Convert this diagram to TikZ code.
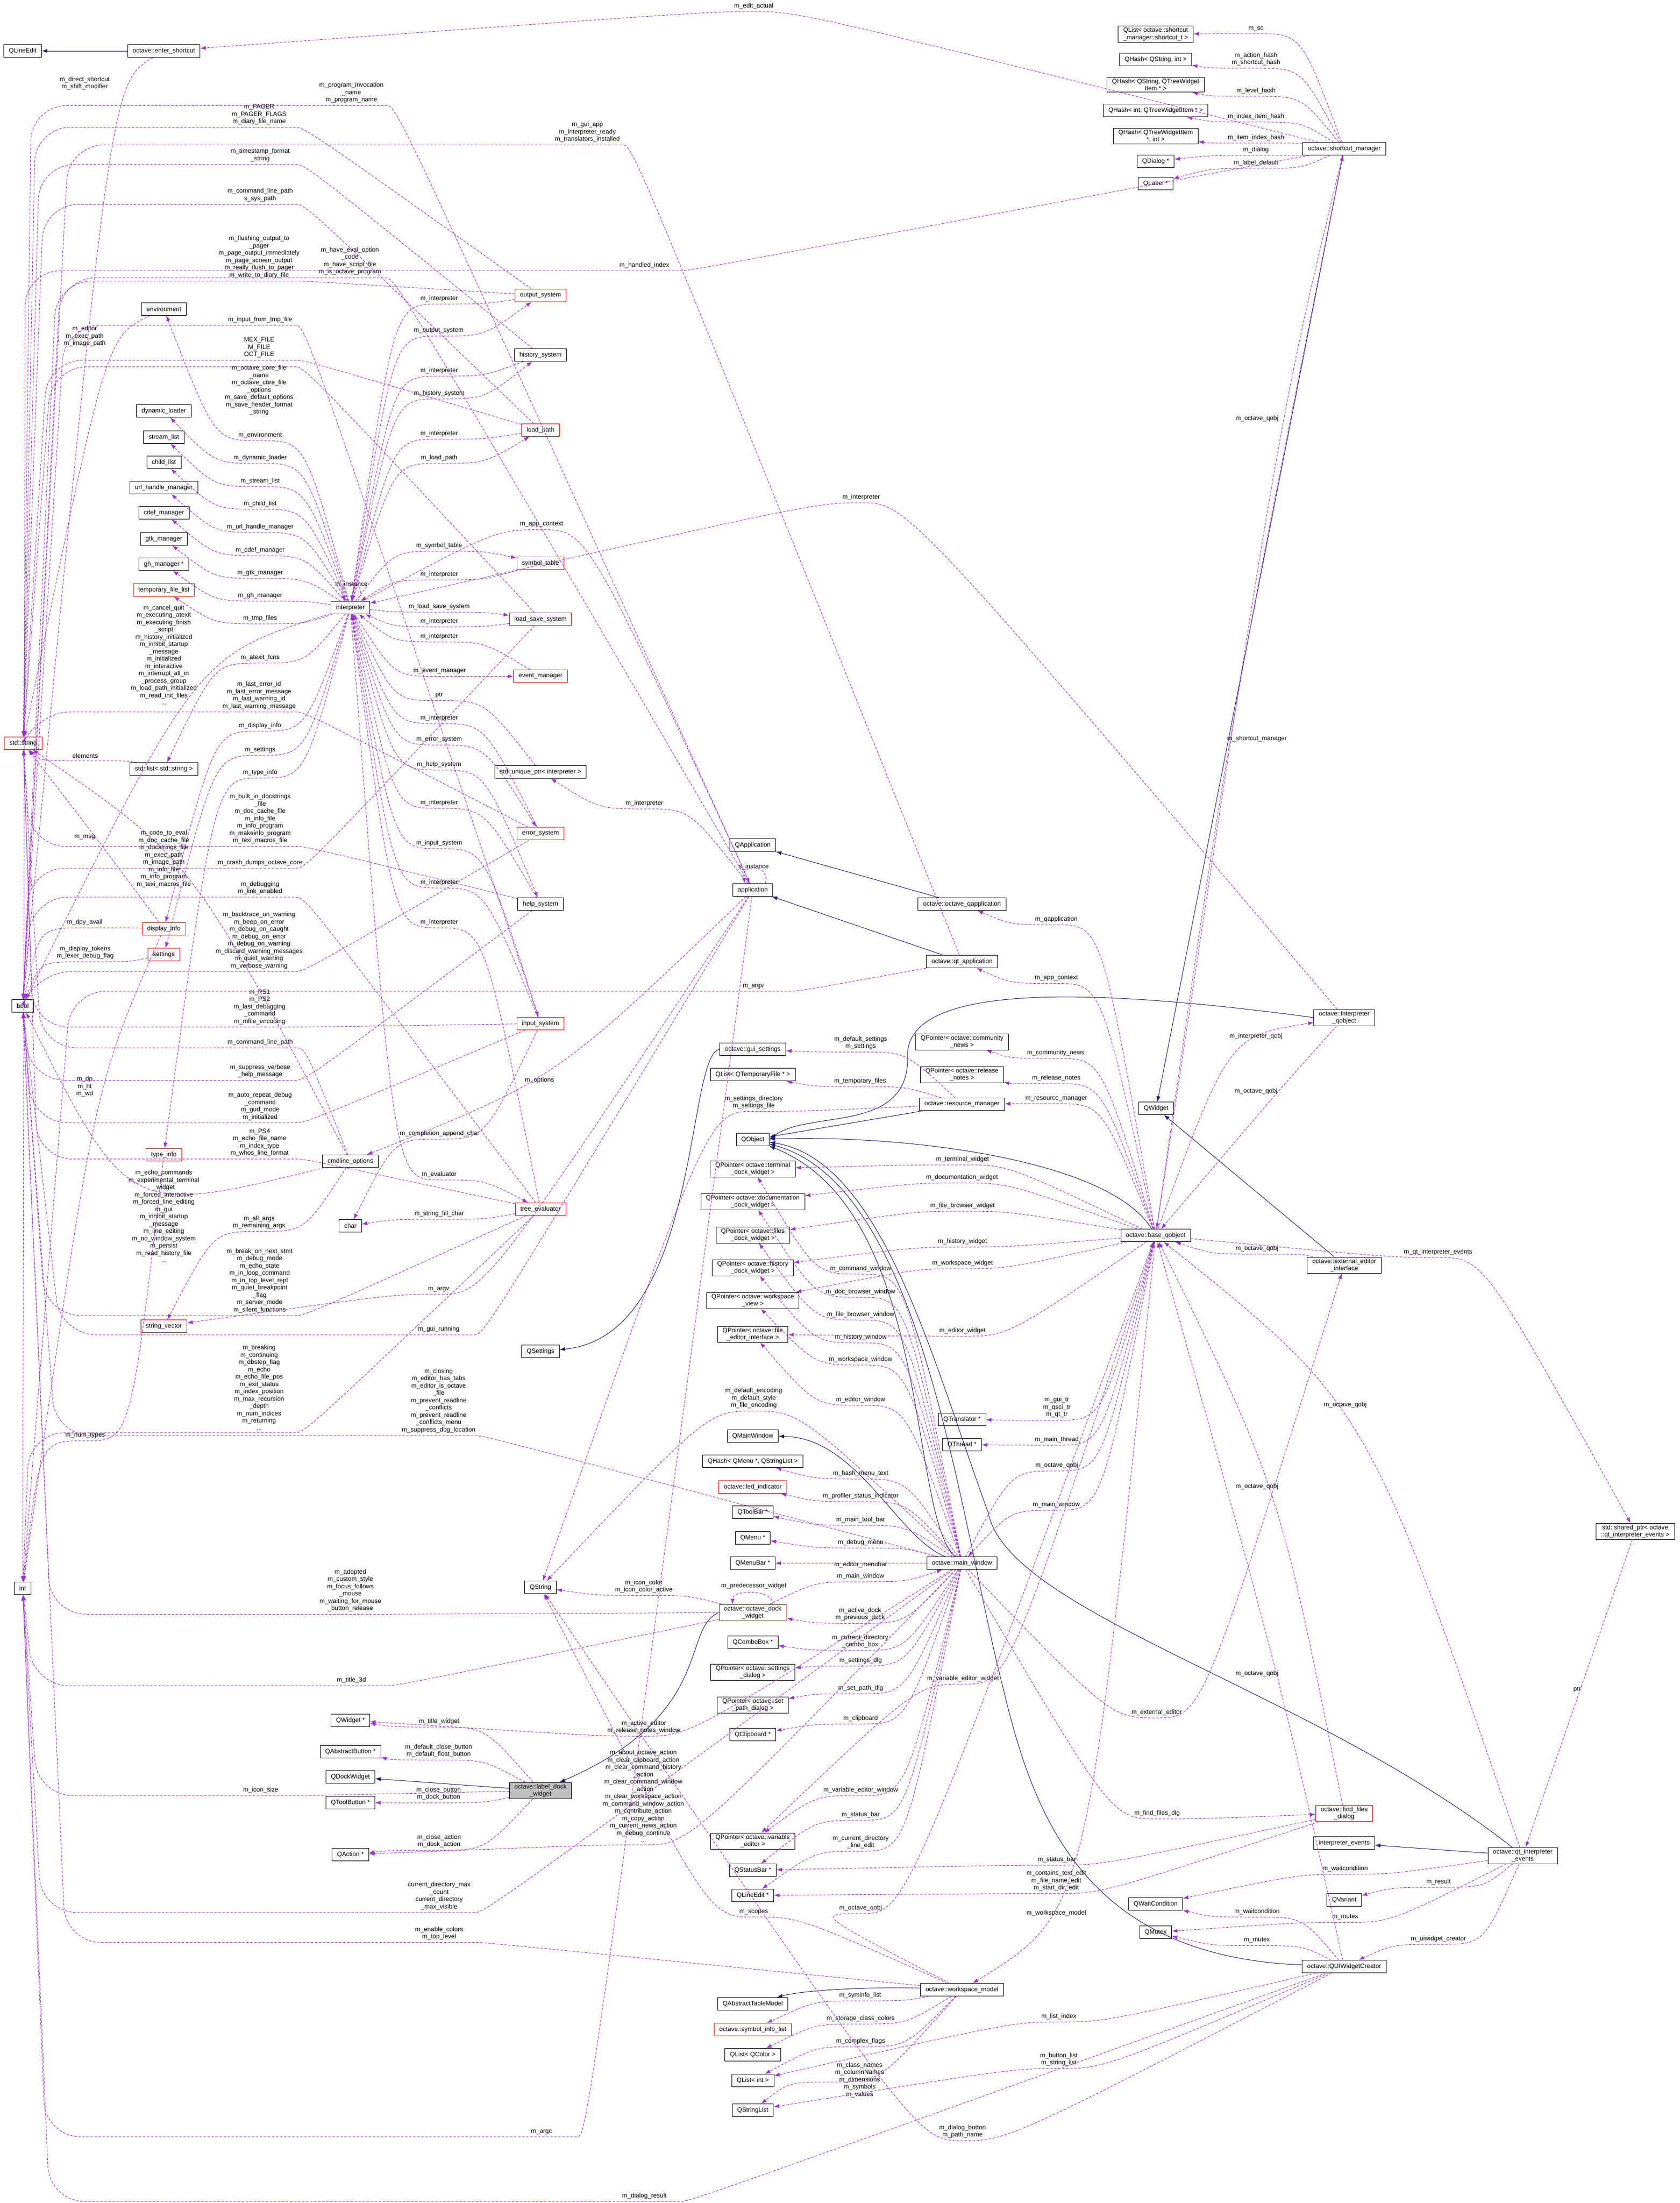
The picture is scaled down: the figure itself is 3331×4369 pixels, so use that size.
\documentclass[tikz,border=0pt]{standalone}
\usepackage{fontspec}
\setmainfont{Liberation Sans}
\usetikzlibrary{calc,arrows.meta}
\definecolor{dp}{HTML}{9A32CD}
\definecolor{nv}{HTML}{191970}
\newcommand\fnt{\fontsize{12.5}{14.5}\selectfont}
\tikzset{
 cls/.style={draw=black,line width=0.9pt,fill=white,font=\fnt,inner xsep=10pt,inner ysep=3pt,minimum height=25pt,align=center},
 redc/.style={cls,draw=red},
 rootc/.style={cls,fill=black!25},
 lab/.style={font=\fnt,align=center,inner sep=1pt},
 dep/.style={draw=dp,line width=1pt,dash pattern=on 5pt off 3pt,-{Latex[length=11pt,width=8pt]}},
 inh/.style={draw=nv,line width=1pt,-{Latex[length=11pt,width=8pt]}}
}
% horizontal pass through label point
\newcommand\pe[4][]{\draw[dep,#1] let \p1=(#2),\p2=(#4),\n1={sign(\x1-\x2)*90} in
  (#2) .. controls ($(#3)+(\n1,4)$) .. ($(#3)+(0,4)$) .. controls ($(#3)+(-\n1,4)$) .. (#4);}
% pass close to label point (single control)
\newcommand\pv[4][]{\draw[dep,#1] (#2) .. controls (#3) .. (#4);}
% pass label, then run along a vertical lane at x=#4 into the target
\newcommand\pl[5][]{\draw[dep,rounded corners=70pt,#1] let \p1=(#2),\p3=(#3),\n1={sign(\x1-\x3)*90} in
  (#2) .. controls ($(#3)+(\n1,4)$) .. ($(#3)+(0,4)$) -- (#4pt,\y3-4pt) -- (#5);}
\begin{document}
\catcode`\_=12
\begin{tikzpicture}[x=1pt,y=-1pt]
\useasboundingbox (0,0) rectangle (3331,4369);
% ---------- nodes ----------
\node[cls] (qle) at (45,101) {QLineEdit};
\node[cls] (esc) at (325,101) {octave::enter_shortcut};
\node[cls] (env) at (325,613) {environment};
\node[cls] (dyl) at (325,815) {dynamic_loader};
\node[cls] (stl) at (325,867) {stream_list};
\node[cls] (chl) at (325,917) {child_list};
\node[cls] (uhm) at (325,967) {url_handle_manager};
\node[cls] (cdm) at (325,1017) {cdef_manager};
\node[cls] (gtk) at (325,1069) {gtk_manager};
\node[cls] (ghm) at (325,1119) {gh_manager *};
\node[redc] (tfl) at (325,1170) {temporary_file_list};
\node[cls] (itp) at (695,1205) {interpreter};
\node[redc] (outs) at (1072,586) {output_system};
\node[cls] (hist) at (1072,704) {history_system};
\node[redc] (lp) at (1072,853) {load_path};
\node[redc] (symt) at (1072,1117) {symbol_table};
\node[redc] (lss) at (1072,1228) {load_save_system};
\node[redc] (evm) at (1072,1341) {event_manager};
\node[cls] (uptr) at (1072,1531) {std::unique_ptr< interpreter >};
\node[redc] (errs) at (1072,1653) {error_system};
\node[cls] (helps) at (1072,1793) {help_system};
\node[redc] (inps) at (1072,2030) {input_system};
\node[redc] (sstr) at (46,1474) {std::string};
\node[cls] (slist) at (325,1525) {std::list< std::string >};
\node[redc] (dinfo) at (325,1842) {display_info};
\node[redc] (sett) at (325,1893) {settings};
\node[cls] (boo) at (45,1995) {bool};
\node[redc] (tinfo) at (325,2290) {type_info};
\node[cls] (cmdo) at (695,2303) {cmdline_options};
\node[redc] (tev) at (1072,2398) {tree_evaluator};
\node[cls] (chr) at (695,2431) {char};
\node[redc] (svec) at (325,2630) {string_vector};
\node[cls] (qset) at (1072,2680) {QSettings};
\node[cls] (nint) at (45,3150) {int};
\node[cls] (qstr) at (1072,3148) {QString};
\node[cls] (qwp) at (695,3412) {QWidget *};
\node[cls] (qab) at (695,3474) {QAbstractButton *};
\node[cls] (qdw) at (695,3524) {QDockWidget};
\node[cls] (qtb) at (695,3575) {QToolButton *};
\node[cls] (qact) at (695,3678) {QAction *};
\node[rootc] (ldw) at (1072,3551) {octave::label_dock\\_widget};
\node[cls] (qapp) at (1493,1676) {QApplication};
\node[cls] (app) at (1493,1765) {application};
\node[cls] (oqa) at (1908,1793) {octave::octave_qapplication};
\node[cls] (qta) at (1908,1907) {octave::qt_application};
\node[cls] (pcn) at (1908,2066) {QPointer< octave::community\\_news >};
\node[cls] (prn) at (1908,2131) {QPointer< octave::release\\_notes >};
\node[cls] (rsm) at (1908,2190) {octave::resource_manager};
\node[cls] (qwid) at (2293,2198) {QWidget};
\node[cls] (gus) at (1493,2081) {octave::gui_settings};
\node[cls] (qltf) at (1493,2131) {QList< QTemporaryFile * >};
\node[cls] (qobj) at (1493,2260) {QObject};
\node[cls] (pterm) at (1493,2318) {QPointer< octave::terminal\\_dock_widget >};
\node[cls] (pdoc) at (1493,2383) {QPointer< octave::documentation\\_dock_widget >};
\node[cls] (pfile) at (1493,2449) {QPointer< octave::files\\_dock_widget >};
\node[cls] (phist) at (1493,2514) {QPointer< octave::history\\_dock_widget >};
\node[cls] (pws) at (1493,2579) {QPointer< octave::workspace\\_view >};
\node[cls] (pfe) at (1493,2646) {QPointer< octave::file\\_editor_interface >};
\node[cls] (bqo) at (2292,2450) {octave::base_qobject};
\node[cls] (qtr) at (1908,2815) {QTranslator *};
\node[cls] (qth) at (1908,2865) {QThread *};
\node[cls] (qmw) at (1493,2848) {QMainWindow};
\node[cls] (qhm) at (1493,2898) {QHash< QMenu *, QStringList >};
\node[redc] (led) at (1493,2949) {octave::led_indicator};
\node[cls] (qtbar) at (1493,2999) {QToolBar *};
\node[cls] (qmenu) at (1493,3050) {QMenu *};
\node[cls] (qmb) at (1493,3100) {QMenuBar *};
\node[cls] (mw) at (1908,3100) {octave::main_window};
\node[redc] (odw) at (1493,3198) {octave::octave_dock\\_widget};
\node[cls] (qcb) at (1493,3257) {QComboBox *};
\node[cls] (psd) at (1493,3316) {QPointer< octave::settings\\_dialog >};
\node[cls] (pspd) at (1493,3381) {QPointer< octave::set\\_path_dialog >};
\node[cls] (qcl) at (1493,3440) {QClipboard *};
\node[cls] (pve) at (1493,3651) {QPointer< octave::variable\\_editor >};
\node[cls] (qsb) at (1493,3709) {QStatusBar *};
\node[cls] (qlep) at (1493,3759) {QLineEdit *};
\node[cls] (qwc) at (2292,3776) {QWaitCondition};
\node[cls] (qvar) at (2666,3768) {QVariant};
\node[cls] (qmx) at (2292,3832) {QMutex};
\node[cls] (uic) at (2666,3900) {octave::QUIWidgetCreator};
\node[cls] (wsm) at (1908,3946) {octave::workspace_model};
\node[cls] (qatm) at (1493,3974) {QAbstractTableModel};
\node[redc] (sil) at (1493,4025) {octave::symbol_info_list};
\node[cls] (qlc) at (1493,4075) {QList< QColor >};
\node[cls] (qli) at (1493,4126) {QList< int >};
\node[cls] (qsl) at (1493,4185) {QStringList};
\node[cls] (eei) at (2666,2509) {octave::external_editor\\_interface};
\node[cls] (sptr) at (3243,3037) {std::shared_ptr< octave\\::qt_interpreter_events >};
\node[redc] (ffd) at (2666,3596) {octave::find_files\\_dialog};
\node[cls] (iev) at (2666,3655) {interpreter_events};
\node[cls] (qie) at (3020,3680) {octave::qt_interpreter\\_events};
\node[cls] (iqo) at (2666,2018) {octave::interpreter\\_qobject};
\node[cls] (qls) at (2292,68) {QList< octave::shortcut\\_manager::shortcut_t >};
\node[cls] (qhsi) at (2292,118) {QHash< QString, int >};
\node[cls] (qhst) at (2292,168) {QHash< QString, QTreeWidget\\Item * >};
\node[cls] (qhit) at (2292,219) {QHash< int, QTreeWidgetItem * >};
\node[cls] (qhti) at (2292,270) {QHash< QTreeWidgetItem\\*, int >};
\node[cls] (sm) at (2666,295) {octave::shortcut_manager};
\node[cls] (qdlg) at (2292,320) {QDialog *};
\node[cls] (qlab) at (2292,364) {QLabel *};
% ---------- labels ----------
\node[lab] (a1) at (516,863) {m_environment};
\node[lab] (a2) at (516,908) {m_dynamic_loader};
\node[lab] (a3) at (516,954) {m_stream_list};
\node[lab] (a4) at (516,999) {m_child_list};
\node[lab] (a5) at (516,1045) {m_url_handle_manager};
\node[lab] (a6) at (516,1091) {m_cdef_manager};
\node[lab] (a7) at (516,1136) {m_gtk_manager};
\node[lab] (a8) at (516,1181) {m_gh_manager};
\node[lab] (a9) at (516,1226) {m_tmp_files};
\node[lab] (a10) at (516,1304) {m_atexit_fcns};
\node[lab] (a11) at (516,1439) {m_display_info};
\node[lab] (a12) at (516,1487) {m_settings};
\node[lab] (a13) at (516,1532) {m_type_info};
\node[lab] (b1) at (870,656) {m_output_system};
\node[lab] (b2) at (871,780) {m_history_system};
\node[lab] (b3) at (871,908) {m_load_path};
\node[lab] (b4) at (871,1082) {m_symbol_table};
\node[lab] (b5) at (871,1203) {m_load_save_system};
\node[lab] (b6) at (872,1331) {m_event_manager};
\node[lab] (b7) at (871,1467) {m_error_system};
\node[lab] (b8) at (871,1516) {m_help_system};
\node[lab] (b9) at (871,1672) {m_input_system};
\node[lab] (b10) at (871,2329) {m_evaluator};
\node[lab] (b11) at (697,1159) {m_instance};
\node[lab] (b12) at (1074,1040) {m_app_context};
\node[lab] (c1) at (871,592) {m_interpreter};
\node[lab] (c2) at (871,735) {m_interpreter};
\node[lab] (c3) at (871,860) {m_interpreter};
\node[lab] (c4) at (871,1139) {m_interpreter};
\node[lab] (c5) at (871,1232) {m_interpreter};
\node[lab] (c6) at (871,1262) {m_interpreter};
\node[lab] (c7) at (871,1379) {ptr};
\node[lab] (c8) at (871,1424) {m_interpreter};
\node[lab] (c9) at (871,1592) {m_interpreter};
\node[lab] (c10) at (871,1750) {m_interpreter};
\node[lab] (c11) at (871,1829) {m_interpreter};
\node[lab] (c12) at (1278,1593) {m_interpreter};
\node[lab] (c13) at (1070,2142) {m_options};
\node[lab] (c14) at (871,2407) {m_string_fill_char};
\node[lab] (c15) at (872,2248) {m_completion_append_char};
\node[lab] (c16) at (1708,986) {m_interpreter};
\node[lab] (s1) at (169,1499) {elements};
\node[lab] (s2) at (697,184) {m_program_invocation\\_name\\m_program_name};
\node[lab] (s3) at (514,227) {m_PAGER\\m_PAGER_FLAGS\\m_diary_file_name};
\node[lab] (s4) at (516,308) {m_timestamp_format\\_string};
\node[lab] (s5) at (516,387) {m_command_line_path\\s_sys_path};
\node[lab] (s6) at (514,689) {MEX_FILE\\M_FILE\\OCT_FILE};
\node[lab] (s7) at (514,774) {m_octave_core_file\\_name\\m_octave_core_file\\_options\\m_save_default_options\\m_save_header_format\\_string};
\node[lab] (s8) at (514,1379) {m_last_error_id\\m_last_error_message\\m_last_warning_id\\m_last_warning_message};
\node[lab] (s9) at (516,1624) {m_built_in_docstrings\\_file\\m_doc_cache_file\\m_info_file\\m_info_program\\m_makeinfo_program\\m_texi_macros_file};
\node[lab] (s10) at (325,1703) {m_code_to_eval\\m_doc_cache_file\\m_docstrings_file\\m_exec_path\\m_image_path\\m_info_file\\m_info_program\\m_texi_macros_file};
\node[lab] (s11) at (515,1997) {m_PS1\\m_PS2\\m_last_debugging\\_command\\m_mfile_encoding};
\node[lab] (s12) at (515,2266) {m_PS4\\m_echo_file_name\\m_index_type\\m_whos_line_format};
\node[lab] (s13) at (168,667) {m_editor\\m_exec_path\\m_image_path};
\node[lab] (s14) at (168,1660) {m_msg};
\node[lab] (s15) at (516,2067) {m_command_line_path};
\node[lab] (t1) at (168,165) {m_direct_shortcut\\m_shift_modifier};
\node[lab] (t2) at (514,510) {m_flushing_output_to\\_pager\\m_page_output_immediately\\m_page_screen_output\\m_really_flush_to_pager\\m_write_to_diary_file};
\node[lab] (t3) at (694,518) {m_have_eval_option\\_code\\m_have_script_file\\m_is_octave_program};
\node[lab] (t4) at (516,634) {m_input_from_tmp_file};
\node[lab] (t5) at (1165,262) {m_gui_app\\m_interpreter_ready\\m_translators_installed};
\node[lab] (t6) at (516,1711) {m_crash_dumps_octave_core};
\node[lab] (t7) at (516,1761) {m_debugging\\m_link_enabled};
\node[lab] (t8) at (514,1865) {m_backtrace_on_warning\\m_beep_on_error\\m_debug_on_caught\\m_debug_on_error\\m_debug_on_warning\\m_discard_warning_messages\\m_quiet_warning\\m_verbose_warning};
\node[lab] (t9) at (168,1829) {m_dpy_avail};
\node[lab] (t10) at (169,1889) {m_display_tokens\\m_lexer_debug_flag};
\node[lab] (t11) at (516,2124) {m_suppress_verbose\\_help_message};
\node[lab] (t12) at (516,2194) {m_auto_repeat_debug\\_command\\m_gud_mode\\m_initialized};
\node[lab] (t13) at (325,2412) {m_echo_commands\\m_experimental_terminal\\_widget\\m_forced_interactive\\m_forced_line_editing\\m_gui\\m_inhibit_startup\\_message\\m_line_editing\\m_no_window_system\\m_persist\\m_read_history_file\\...};
\node[lab] (t14) at (515,2540) {m_break_on_next_stmt\\m_debug_mode\\m_echo_state\\m_in_loop_command\\m_in_top_level_repl\\m_quiet_breakpoint\\_flag\\m_server_mode\\m_silent_functions};
\node[lab] (t15) at (695,3154) {m_adopted\\m_custom_style\\m_focus_follows\\_mouse\\m_waiting_for_mouse\\_button_release};
\node[lab] (t16) at (870,2778) {m_closing\\m_editor_has_tabs\\m_editor_is_octave\\_file\\m_prevent_readline\\_conflicts\\m_prevent_readline\\_conflicts_menu\\m_suppress_dbg_location};
\node[lab] (t17) at (870,2636) {m_gui_running};
\node[lab] (t18) at (871,3834) {m_enable_colors\\m_top_level};
\node[lab] (t19) at (325,1299) {m_cancel_quit\\m_executing_atexit\\m_executing_finish\\_script\\m_history_initialized\\m_inhibit_startup\\_message\\m_initialized\\m_interactive\\m_interrupt_all_in\\_process_group\\m_load_path_initialized\\m_read_init_files\\...};
\node[lab] (i1) at (168,2155) {m_dp\\m_ht\\m_wd};
\node[lab] (i2) at (169,2847) {m_num_types};
\node[lab] (i3) at (514,2752) {m_breaking\\m_continuing\\m_dbstep_flag\\m_echo\\m_echo_file_pos\\m_exit_status\\m_index_position\\m_max_recursion\\_depth\\m_num_indices\\m_returning\\...};
\node[lab] (i4) at (697,3332) {m_title_3d};
\node[lab] (i5) at (517,3550) {m_icon_size};
\node[lab] (i6) at (871,3760) {current_directory_max\\_count\\current_directory\\_max_visible};
\node[lab] (i7) at (1074,4228) {m_argc};
\node[lab] (i8) at (1278,4355) {m_dialog_result};
\node[lab] (i9) at (1278,526) {m_handled_index};
\node[lab] (v1) at (514,2424) {m_all_args\\m_remaining_args};
\node[lab] (v2) at (870,2557) {m_argv};
\node[lab] (q1) at (1495,2773) {m_default_encoding\\m_default_style\\m_file_encoding};
\node[lab] (q2) at (1277,3146) {m_icon_color\\m_icon_color_active};
\node[lab] (q3) at (1495,3792) {m_scopes};
\node[lab] (q4) at (1909,4227) {m_dialog_button\\m_path_name};
\node[lab] (q5) at (1495,2186) {m_settings_directory\\m_settings_file};
\node[lab] (d1) at (871,3414) {m_title_widget};
\node[lab] (d2) at (870,3472) {m_default_close_button\\m_default_float_button};
\node[lab] (d3) at (870,3557) {m_close_button\\m_dock_button};
\node[lab] (d4) at (871,3651) {m_close_action\\m_dock_action};
\node[lab] (d5) at (1276,3562) {m_about_octave_action\\m_clear_clipboard_action\\m_clear_command_history\\_action\\m_clear_command_window\\_action\\m_clear_workspace_action\\m_command_window_action\\m_contribute_action\\m_copy_action\\m_current_news_action\\m_debug_continue\\...};
\node[lab] (d6) at (1277,3425) {m_active_editor\\m_release_notes_window};
\node[lab] (e1) at (2095,1823) {m_qapplication};
\node[lab] (e2) at (2095,1940) {m_app_context};
\node[lab] (e3) at (2094,2088) {m_community_news};
\node[lab] (e4) at (2095,2138) {m_release_notes};
\node[lab] (e5) at (2095,2179) {m_resource_manager};
\node[lab] (e6) at (1909,2299) {m_terminal_widget};
\node[lab] (e7) at (1908,2335) {m_documentation_widget};
\node[lab] (e8) at (1909,2391) {m_file_browser_widget};
\node[lab] (e9) at (1909,2462) {m_history_widget};
\node[lab] (e10) at (1909,2505) {m_workspace_widget};
\node[lab] (e11) at (1909,2639) {m_editor_widget};
\node[lab] (e12) at (2096,2791) {m_gui_tr\\m_qsci_tr\\m_qt_tr};
\node[lab] (e13) at (2096,2855) {m_main_thread};
\node[lab] (e14) at (2095,2984) {m_main_window};
\node[lab] (e15) at (2096,2906) {m_octave_qobj};
\node[lab] (e16) at (2493,1465) {m_shortcut_manager};
\node[lab] (e17) at (2493,830) {m_octave_qobj};
\node[lab] (e18) at (2491,2055) {m_interpreter_qobj};
\node[lab] (e19) at (2491,2164) {m_octave_qobj};
\node[lab] (e20) at (2493,2476) {m_octave_qobj};
\node[lab] (e21) at (2852,2483) {m_qt_interpreter_events};
\node[lab] (e22) at (2668,2786) {m_octave_qobj};
\node[lab] (e23) at (2493,2948) {m_octave_qobj};
\node[lab] (e24) at (2493,3319) {m_octave_qobj};
\node[lab] (e25) at (2095,3794) {m_workspace_model};
\node[lab] (e26) at (1707,3784) {m_octave_qobj};
\node[lab] (e27) at (3128,3351) {ptr};
\node[lab] (e28) at (1910,3329) {m_variable_editor_widget};
\node[lab] (r1) at (1707,2068) {m_default_settings\\m_settings};
\node[lab] (r2) at (1706,2144) {m_temporary_files};
\node[lab] (m1) at (1707,2516) {m_command_window};
\node[lab] (m2) at (1707,2562) {m_doc_browser_window};
\node[lab] (m3) at (1707,2607) {m_file_browser_window};
\node[lab] (m4) at (1707,2652) {m_history_window};
\node[lab] (m5) at (1707,2696) {m_workspace_window};
\node[lab] (m6) at (1707,2776) {m_editor_window};
\node[lab] (m7) at (1707,2922) {m_hash_menu_text};
\node[lab] (m8) at (1707,2967) {m_profiler_status_indicator};
\node[lab] (m9) at (1707,3014) {m_main_tool_bar};
\node[lab] (m10) at (1707,3059) {m_debug_menu};
\node[lab] (m11) at (1707,3103) {m_editor_menubar};
\node[lab] (m12) at (1707,3126) {m_main_window};
\node[lab] (m13) at (1706,3201) {m_active_dock\\m_previous_dock};
\node[lab] (m14) at (1706,3255) {m_current_directory\\_combo_box};
\node[lab] (m15) at (1707,3293) {m_settings_dlg};
\node[lab] (m16) at (1707,3348) {m_set_path_dlg};
\node[lab] (m17) at (1707,3408) {m_clipboard};
\node[lab] (m18) at (1707,3550) {m_variable_editor_window};
\node[lab] (m19) at (1707,3599) {m_status_bar};
\node[lab] (m20) at (1707,3653) {m_current_directory\\_line_edit};
\node[lab] (m21) at (2294,3396) {m_external_editor};
\node[lab] (m22) at (2295,3596) {m_find_files_dlg};
\node[lab] (m23) at (2096,3688) {m_status_bar};
\node[lab] (m24) at (2095,3730) {m_contains_text_edit\\m_file_name_edit\\m_start_dir_edit};
\node[lab] (m25) at (1495,3145) {m_predecessor_widget};
\node[lab] (m26) at (1495,1719) {s_instance};
\node[lab] (m27) at (1494,1956) {m_argv};
\node[lab] (w1) at (1706,3957) {m_syminfo_list};
\node[lab] (w2) at (1707,4003) {m_storage_class_colors};
\node[lab] (w3) at (1707,4048) {m_complex_flags};
\node[lab] (w4) at (1705,4125) {m_class_names\\m_columnNames\\m_dimensions\\m_symbols\\m_values};
\node[lab] (u1) at (2100,3999) {m_list_index};
\node[lab] (u2) at (2100,4084) {m_button_list\\m_string_list};
\node[lab] (u3) at (2668,3706) {m_waitcondition};
\node[lab] (u4) at (2853,3732) {m_result};
\node[lab] (u5) at (2668,3802) {m_mutex};
\node[lab] (u6) at (2853,3845) {m_uiwidget_creator};
\node[lab] (u7) at (2493,3791) {m_waitcondition};
\node[lab] (u8) at (2493,3848) {m_mutex};
\node[lab] (k1) at (2491,57) {m_sc};
\node[lab] (k2) at (2491,117) {m_action_hash\\m_shortcut_hash};
\node[lab] (k3) at (2491,180) {m_level_hash};
\node[lab] (k4) at (2491,231) {m_index_item_hash};
\node[lab] (k5) at (2491,273) {m_item_index_hash};
\node[lab] (k6) at (2491,297) {m_dialog};
\node[lab] (k7) at (2491,323) {m_label_default};
\node[lab] (k8) at (1495,12) {m_edit_actual};
% ---------- inheritance ----------
\draw[inh] (esc) -- (qle);
\draw[inh] (oqa) -- (qapp);
\draw[inh] (qta) -- (app);
\draw[inh] (rsm) -- (qobj);
\draw[inh] (iqo.west) .. controls (2100,1950) and (1790,1960) .. (1800,2100) .. controls (1800,2250) and (1600,2200) .. (qobj.east);
\draw[inh] (bqo) .. controls (2200,2300) and (1800,2250) .. (qobj);
\draw[inh] (mw) .. controls (1800,3000) and (1850,2400) .. (qobj);
\draw[inh] (uic) .. controls (2150,3880) and (2050,3600) .. (1990,3350) .. controls (1900,3000) and (1830,2350) .. (qobj);
\draw[inh] (qie) .. controls (2600,3350) and (2000,3200) .. (1960,3000) .. controls (1850,2700) and (1750,2300) .. (qobj);
\draw[inh] (gus.west) .. controls (1360,2090) and (1390,2650) .. (qset);
\draw[inh] (sm) -- (qwid);
\draw[inh] (eei) -- (qwid);
\draw[inh] (mw) .. controls (1780,3050) and (1700,2850) .. (qmw);
\draw[inh] (qie) -- (iev);
\draw[inh] (wsm) .. controls (1750,3940) and (1600,3945) .. (qatm);
\draw[inh] (odw.west) .. controls (1350,3230) and (1420,3400) .. (ldw);
\draw[inh] (ldw) -- (qdw);
% ---------- interpreter members ----------
\pe{itp}{a1.south}{env}
\pe{itp}{a2.south}{dyl}
\pe{itp}{a3.south}{stl}
\pe{itp}{a4.south}{chl}
\pe{itp}{a5.south}{uhm}
\pe{itp}{a6.south}{cdm}
\pe{itp}{a7.south}{gtk}
\pe{itp}{a8.south}{ghm}
\pe{itp}{a9.south}{tfl}
\pe{itp}{a10.south}{slist}
\pe{itp}{a11.south}{dinfo}
\pe{itp}{a12.south}{sett}
\pe{itp}{a13.south}{tinfo}
\pe{itp}{b1.south}{outs}
\pe{itp}{b2.south}{hist}
\pe{itp}{b3.south}{lp}
\pe{itp}{b4.south}{symt}
\pe{itp}{b5.south}{lss}
\pe{itp}{b6.south}{evm}
\pe{itp}{b7.south}{errs}
\pe{itp}{b8.south}{helps}
\pe{itp}{b9.south}{inps}
\pe{itp}{b10.south}{tev}
\pe{itp}{b12.south}{app}
\draw[dep] ([xshift=15pt]itp.north) .. controls +(25,-45) and +(-20,-45) .. ([xshift=-10pt]itp.north);
\pe{outs}{c1.south}{itp}
\pe{hist}{c2.south}{itp}
\pe{lp}{c3.south}{itp}
\pe{symt}{c4.south}{itp}
\pe{lss}{c5.south}{itp}
\pe{evm}{c6.south}{itp}
\pe{uptr}{c7.south}{itp}
\pe{errs}{c8.south}{itp}
\pe{helps}{c9.south}{itp}
\pe{inps}{c10.south}{itp}
\pe{tev}{c11.south}{itp}
\pe{app}{c12.south}{uptr}
\pv{app}{c13.east}{cmdo}
\pe{tev}{c14.south}{chr}
\pe{inps}{c15.south}{chr}
\pe{iqo}{c16.south}{itp}
% ---------- std::string ----------
\pe{slist}{s1.south}{sstr}
\pl{app}{s2.south}{62}{sstr}
\pl{outs}{s3.south}{70}{sstr}
\pl{hist}{s4.south}{78}{sstr}
\pl{lp}{s5.south}{86}{sstr}
\pl{lp}{s6.south}{94}{sstr}
\pl{lss}{s7.north}{102}{sstr}
\pl{errs}{s8.south}{70}{sstr}
\pl{helps}{s9.south}{60}{sstr}
\pv{cmdo}{s10.east}{sstr}
\pl{inps}{s11.south}{66}{sstr}
\pl{tev}{s12.south}{74}{sstr}
\pv{env}{s13.east}{sstr}
\pv{dinfo}{s14.east}{sstr}
\pl{cmdo}{s15.south}{82}{sstr}
% ---------- bool ----------
\pv{esc}{t1.east}{boo}
\pl{outs}{t2.south}{112}{boo}
\pl{app}{t3.south}{120}{boo}
\pl{inps}{t4.south}{128}{boo}
\pl{qta}{t5.south}{136}{boo}
\pl{lss}{t6.south}{58}{boo}
\pl{tev}{t7.south}{64}{boo}
\pl{errs}{t8.south}{70}{boo}
\pe{dinfo}{t9.south}{boo}
\pe{sett}{t10.south}{boo}
\pl{helps}{t11.south}{58}{boo}
\pl{inps}{t12.south}{64}{boo}
\pv{cmdo}{t13.west}{boo}
\pl{tev}{t14.south}{90}{boo}
\pl{odw}{t15.south}{100}{boo}
\pl{mw}{t16.south}{110}{boo}
\pl{app}{t17.south}{120}{boo}
\pl{wsm}{t18.south}{130}{boo}
\pv{itp}{t19.east}{boo}
% ---------- int ----------
\pv{dinfo}{i1.east}{nint}
\pe{tinfo}{i2.south}{nint}
\pl{tev}{i3.south}{58}{nint}
\pl{odw}{i4.south}{66}{nint}
\pl{ldw}{i5.south}{74}{nint}
\pl{mw}{i6.south}{82}{nint}
\pl{app}{i7.south}{90}{nint}
\pl{uic}{i8.south}{98}{nint}
\pl{sm}{i9.south}{50}{nint}
% ---------- string_vector / QString ----------
\pe{cmdo}{v1.south}{svec}
\pe{app}{v2.south}{svec}
\pe{mw}{q1.south}{qstr}
\pe{odw}{q2.south}{qstr}
\pe{wsm}{q3.south}{qstr}
\pe{uic}{q4.south}{qstr}
\pe{rsm}{q5.south}{qstr}
% ---------- label dock widget ----------
\pe{ldw}{d1.south}{qwp}
\pe{ldw}{d2.south}{qab}
\pe{ldw}{d3.south}{qtb}
\pe{ldw}{d4.south}{qact}
\pe{mw}{d5.south}{qact}
\pe{mw}{d6.south}{qwp}
% ---------- base_qobject ----------
\pe{bqo}{e1.south}{oqa}
\pe{bqo}{e2.south}{qta}
\pe{bqo}{e3.south}{pcn}
\pe{bqo}{e4.south}{prn}
\pe{bqo}{e5.south}{rsm}
\pe{bqo}{e6.south}{pterm}
\pe{bqo}{e7.south}{pdoc}
\pe{bqo}{e8.south}{pfile}
\pe{bqo}{e9.south}{phist}
\pe{bqo}{e10.south}{pws}
\pe{bqo}{e11.south}{pfe}
\pe{bqo}{e12.south}{qtr}
\pe{bqo}{e13.south}{qth}
\pe{bqo}{e14.south}{mw}
\pe{mw}{e15.south}{bqo}
\pv{bqo}{e16.west}{sm}
\pv{sm}{e17.east}{bqo}
\pv{bqo}{e18.west}{iqo}
\pv{iqo}{e19.east}{bqo}
\pe{eei}{e20.south}{bqo}
\pe{bqo}{e21.south}{sptr}
\pv{qie}{e22.east}{bqo}
\pv{ffd}{e23.east}{bqo}
\pv{uic}{e24.east}{bqo}
\pv{bqo}{e25.east}{wsm}
\pe{wsm}{e26.south}{bqo}
\draw[dep] (sptr) -- (qie);
\pe{bqo}{e28.south}{pve}
% ---------- resource manager ----------
\pe{rsm}{r1.south}{gus}
\pe{rsm}{r2.south}{qltf}
% ---------- main window ----------
\pe{mw}{m1.south}{pterm}
\pe{mw}{m2.south}{pdoc}
\pe{mw}{m3.south}{pfile}
\pe{mw}{m4.south}{phist}
\pe{mw}{m5.south}{pws}
\pe{mw}{m6.south}{pfe}
\pe{mw}{m7.south}{qhm}
\pe{mw}{m8.south}{led}
\pe{mw}{m9.south}{qtbar}
\pe{mw}{m10.south}{qmenu}
\pe{mw}{m11.north}{qmb}
\pe{odw}{m12.south}{mw}
\pe{mw}{m13.south}{odw}
\pe{mw}{m14.south}{qcb}
\pe{mw}{m15.south}{psd}
\pe{mw}{m16.south}{pspd}
\pe{mw}{m17.south}{qcl}
\pe{mw}{m18.south}{pve}
\pe{mw}{m19.south}{qsb}
\pe{mw}{m20.south}{qlep}
\pe{mw}{m21.south}{eei}
\pe{mw}{m22.south}{ffd}
\pe{ffd}{m23.south}{qsb}
\pe{ffd}{m24.south}{qlep}
\draw[dep] ([xshift=40pt]odw.north) .. controls +(0,-30) and +(0,-30) .. ([xshift=-40pt]odw.north);
\draw[dep] ([xshift=25pt]app.north) .. controls +(10,-40) and +(-10,-40) .. ([xshift=-15pt]app.north);
\pl{qta}{m27.south}{140}{nint}
% ---------- workspace model / widget creator ----------
\pe{wsm}{w1.south}{sil}
\pe{wsm}{w2.south}{qlc}
\pe{wsm}{w3.south}{qli}
\pe{wsm}{w4.west}{qsl}
\pe{uic}{u1.south}{qli}
\pe{uic}{u2.south}{qsl}
\pe{qie}{u3.south}{qwc}
\pe{qie}{u4.south}{qvar}
\pe{qie}{u5.south}{qmx}
\pe{qie}{u6.south}{uic}
\pe{uic}{u7.south}{qwc}
\pe{uic}{u8.south}{qmx}
% ---------- shortcut manager ----------
\pe{sm}{k1.south}{qls}
\pe{sm}{k2.south}{qhsi}
\pe{sm}{k3.south}{qhst}
\pe{sm}{k4.south}{qhit}
\pe{sm}{k5.south}{qhti}
\pe{sm}{k6.south}{qdlg}
\pe{sm}{k7.south}{qlab}
\pe{sm}{k8.south}{esc}
\end{tikzpicture}
\end{document}
